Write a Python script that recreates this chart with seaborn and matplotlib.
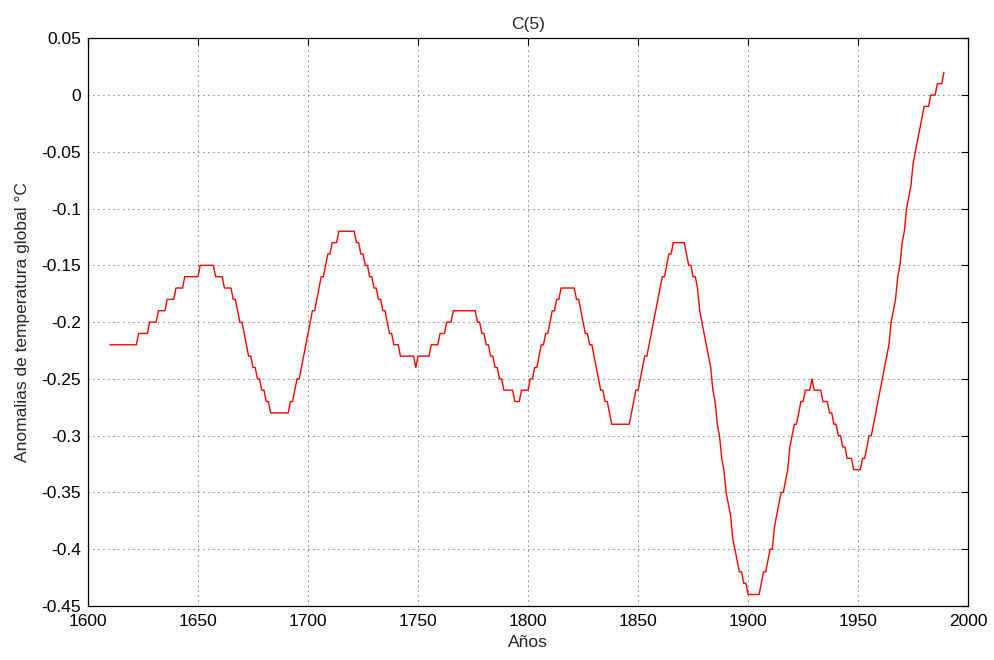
import matplotlib
matplotlib.use("Agg")
import matplotlib.pyplot as plt
import seaborn as sns
import numpy as np
import pandas as pd

# yearly global temperature anomaly, smoothed series C(5)
years = np.arange(1610, 1990)
anomaly = [
    -0.22, -0.22, -0.22, -0.22, -0.22, -0.22, -0.22, -0.22, -0.22, -0.22,  # 1610
    -0.22, -0.22, -0.22, -0.21, -0.21, -0.21, -0.21, -0.21, -0.20, -0.20,  # 1620
    -0.20, -0.20, -0.19, -0.19, -0.19, -0.19, -0.18, -0.18, -0.18, -0.18,  # 1630
    -0.17, -0.17, -0.17, -0.17, -0.16, -0.16, -0.16, -0.16, -0.16, -0.16,  # 1640
    -0.16, -0.15, -0.15, -0.15, -0.15, -0.15, -0.15, -0.15, -0.16, -0.16,  # 1650
    -0.16, -0.16, -0.17, -0.17, -0.17, -0.17, -0.18, -0.18, -0.19, -0.20,  # 1660
    -0.20, -0.21, -0.22, -0.23, -0.23, -0.24, -0.24, -0.25, -0.25, -0.26,  # 1670
    -0.26, -0.27, -0.27, -0.28, -0.28, -0.28, -0.28, -0.28, -0.28, -0.28,  # 1680
    -0.28, -0.28, -0.27, -0.27, -0.26, -0.25, -0.25, -0.24, -0.23, -0.22,  # 1690
    -0.21, -0.20, -0.19, -0.19, -0.18, -0.17, -0.16, -0.16, -0.15, -0.14,  # 1700
    -0.14, -0.13, -0.13, -0.13, -0.12, -0.12, -0.12, -0.12, -0.12, -0.12,  # 1710
    -0.12, -0.12, -0.13, -0.13, -0.14, -0.14, -0.15, -0.15, -0.16, -0.16,  # 1720
    -0.17, -0.17, -0.18, -0.18, -0.19, -0.19, -0.20, -0.21, -0.21, -0.22,  # 1730
    -0.22, -0.22, -0.23, -0.23, -0.23, -0.23, -0.23, -0.23, -0.23, -0.24,  # 1740
    -0.23, -0.23, -0.23, -0.23, -0.23, -0.23, -0.22, -0.22, -0.22, -0.22,  # 1750
    -0.21, -0.21, -0.21, -0.20, -0.20, -0.20, -0.19, -0.19, -0.19, -0.19,  # 1760
    -0.19, -0.19, -0.19, -0.19, -0.19, -0.19, -0.19, -0.20, -0.20, -0.21,  # 1770
    -0.21, -0.22, -0.22, -0.23, -0.23, -0.24, -0.24, -0.25, -0.25, -0.26,  # 1780
    -0.26, -0.26, -0.26, -0.26, -0.27, -0.27, -0.27, -0.26, -0.26, -0.26,  # 1790
    -0.26, -0.25, -0.25, -0.24, -0.24, -0.23, -0.22, -0.22, -0.21, -0.21,  # 1800
    -0.20, -0.19, -0.19, -0.18, -0.18, -0.17, -0.17, -0.17, -0.17, -0.17,  # 1810
    -0.17, -0.17, -0.18, -0.18, -0.19, -0.20, -0.21, -0.21, -0.22, -0.22,  # 1820
    -0.23, -0.24, -0.25, -0.26, -0.26, -0.27, -0.27, -0.28, -0.29, -0.29,  # 1830
    -0.29, -0.29, -0.29, -0.29, -0.29, -0.29, -0.29, -0.28, -0.27, -0.26,  # 1840
    -0.26, -0.25, -0.24, -0.23, -0.23, -0.22, -0.21, -0.20, -0.19, -0.18,  # 1850
    -0.17, -0.16, -0.16, -0.15, -0.14, -0.14, -0.13, -0.13, -0.13, -0.13,  # 1860
    -0.13, -0.13, -0.14, -0.15, -0.15, -0.16, -0.16, -0.17, -0.19, -0.20,  # 1870
    -0.21, -0.22, -0.23, -0.24, -0.26, -0.27, -0.29, -0.30, -0.32, -0.33,  # 1880
    -0.35, -0.36, -0.37, -0.39, -0.40, -0.41, -0.42, -0.42, -0.43, -0.43,  # 1890
    -0.44, -0.44, -0.44, -0.44, -0.44, -0.44, -0.43, -0.42, -0.42, -0.41,  # 1900
    -0.40, -0.40, -0.38, -0.37, -0.36, -0.35, -0.35, -0.34, -0.33, -0.31,  # 1910
    -0.30, -0.29, -0.29, -0.28, -0.27, -0.27, -0.26, -0.26, -0.26, -0.25,  # 1920
    -0.26, -0.26, -0.26, -0.26, -0.27, -0.27, -0.27, -0.28, -0.28, -0.29,  # 1930
    -0.29, -0.30, -0.30, -0.31, -0.31, -0.32, -0.32, -0.32, -0.33, -0.33,  # 1940
    -0.33, -0.33, -0.32, -0.32, -0.31, -0.30, -0.30, -0.29, -0.28, -0.27,  # 1950
    -0.26, -0.25, -0.24, -0.23, -0.22, -0.20, -0.19, -0.18, -0.16, -0.15,  # 1960
    -0.13, -0.12, -0.10, -0.09, -0.08, -0.06, -0.05, -0.04, -0.03, -0.02,  # 1970
    -0.01, -0.01, -0.01, 0.00, 0.00, 0.00, 0.01, 0.01, 0.01, 0.02,        # 1980
]

x_ticks = [1600, 1650, 1700, 1750, 1800, 1850, 1900, 1950, 2000]
y_ticks = [0.05, 0, -0.05, -0.1, -0.15, -0.2, -0.25, -0.3, -0.35, -0.4, -0.45]
y_labels = ["0.05", "0", "-0.05", "-0.1", "-0.15", "-0.2", "-0.25",
            "-0.3", "-0.35", "-0.4", "-0.45"]

df = pd.DataFrame({"year": years, "anomaly": anomaly})

sns.set_style("white")
plt.rcParams["font.family"] = ["Liberation Sans", "DejaVu Sans"]
FS = 12.5

fig = plt.figure(figsize=(9.94, 6.6), dpi=100)
ax = fig.add_axes([0.0885, 0.082, 0.8855, 0.860])

sns.lineplot(data=df, x="year", y="anomaly", color="#ff0000", linewidth=1.0, ax=ax)

ax.set_xlim(1600, 2000)
ax.set_ylim(-0.45, 0.05)
ax.set_xticks(x_ticks)
ax.set_yticks(y_ticks)
ax.set_yticklabels(y_labels)

# matlab-ish look: box, inward ticks on all sides, dotted grid
ax.grid(True, color="black", linestyle=(0, (1, 5)), linewidth=0.6)
for s in ax.spines.values():
    s.set_color("black")
    s.set_linewidth(0.9)
ax.tick_params(direction="in", length=5, width=0.8, top=True, right=True,
               labelsize=FS, colors="black")
ax.tick_params(axis="y", pad=5)
ax.tick_params(axis="x", pad=5.5)

ax.set_title("C(5)", fontsize=FS, pad=7)
ax.set_xlabel("Años", fontsize=FS, labelpad=5)
ax.set_ylabel("Anomalias de temperatura global °C", fontsize=FS, labelpad=8)

fig.savefig("out.png", dpi=100, facecolor="white")
